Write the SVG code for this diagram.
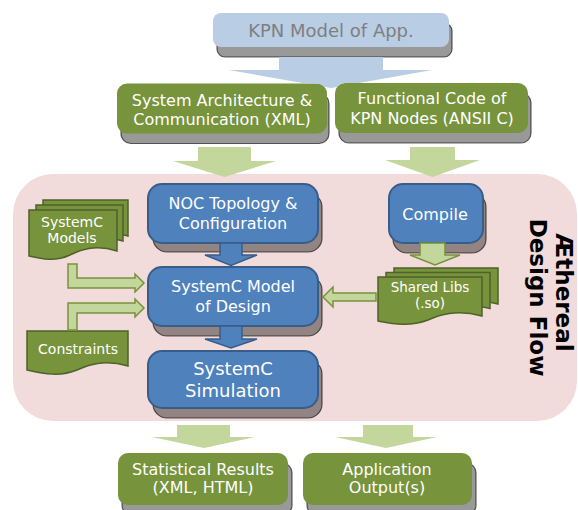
<svg xmlns="http://www.w3.org/2000/svg" width="578" height="510" viewBox="0 0 578 510">
  <style>
    text { font-family: "DejaVu Sans", "Liberation Sans", sans-serif; text-anchor: middle; fill: #ffffff; }
    .t16 { font-size: 16px; }
    .t14 { font-size: 14px; }
    .t13 { font-size: 13.5px; }
    .t18 { font-size: 18px; }
    .title { font-size: 23px; font-weight: bold; fill: #000000; }
    .shadow { fill: #000000; fill-opacity: 0.4; stroke: #000000; stroke-opacity: 0.6; stroke-width: 1.2; }
    .green { fill: #77933c; }
    .blue { fill: #4f81bd; stroke: #385d8a; stroke-width: 2; }
    .kpn { fill: #b9cde5; }
    .doc { fill: #77933c; stroke: #4f6228; stroke-width: 1.5; }
    .flow { fill: #c3d69b; }
    .flow-edged { fill: #c3d69b; stroke: #77933c; stroke-width: 1.5; }
    .blue-arrow { fill: #4f81bd; stroke: #385d8a; stroke-width: 1.5; }
    .kpn-arrow { fill: #b9cde5; }
  </style>
  <defs>
    <!-- hide the tip of the wide arrow behind the two boxes it feeds -->
    <mask id="under-inputs">
      <rect x="0" y="0" width="578" height="510" fill="#fff"/>
      <rect x="117" y="83.5" width="210" height="50" rx="10" fill="#000"/>
      <rect x="335" y="83" width="193" height="50" rx="10" fill="#000"/>
    </mask>
  </defs>

  <!-- design-flow region -->
  <g id="design-flow">
    <rect x="13" y="174" width="564" height="247" rx="40" fill="#f2dcdb"/>
    <text class="title" transform="translate(555.5,292.5) rotate(90)">Æthereal</text>
    <text class="title" transform="translate(529.5,297.5) rotate(90)">Design Flow</text>
  </g>

  <g id="nodes">
    <g id="kpn-model">
      <rect class="shadow" x="217" y="23" width="235" height="34" rx="8"/>
      <rect class="kpn" x="213" y="13" width="236" height="34" rx="8"/>
      <text class="t18" x="331" y="37" style="fill:#7f7f7f">KPN Model of App.</text>
    </g>

    <g id="sys-arch">
      <rect class="shadow" x="121" y="93.5" width="208" height="50" rx="10"/>
      <rect class="green" x="117" y="83.5" width="210" height="50" rx="10"/>
      <text class="t16" x="222" y="105.5">System Architecture &amp;</text>
      <text class="t16" x="222" y="125">Communication (XML)</text>
    </g>

    <g id="func-code">
      <rect class="shadow" x="339" y="93" width="192" height="50" rx="10"/>
      <rect class="green" x="335" y="83" width="193" height="50" rx="10"/>
      <text class="t16" x="432" y="104">Functional Code of</text>
      <text class="t16" x="432" y="123.5">KPN Nodes (ANSII C)</text>
    </g>

    <g id="noc-topology">
      <rect class="shadow" x="153" y="193" width="169" height="59" rx="14"/>
      <rect class="blue" x="148" y="184" width="170" height="59" rx="14"/>
      <text class="t16" x="233" y="209">NOC Topology &amp;</text>
      <text class="t16" x="233" y="228.5">Configuration</text>
    </g>

    <g id="compile">
      <rect class="shadow" x="393" y="193" width="93" height="60" rx="14"/>
      <rect class="blue" x="389" y="184" width="94" height="59" rx="14"/>
      <text class="t16" x="435" y="220">Compile</text>
    </g>

    <g id="systemc-model">
      <rect class="shadow" x="153" y="276" width="169" height="60" rx="14"/>
      <rect class="blue" x="148" y="267" width="170" height="59" rx="14"/>
      <text class="t16" x="233" y="292">SystemC Model</text>
      <text class="t16" x="233" y="311.5">of Design</text>
    </g>

    <g id="systemc-simulation">
      <rect class="shadow" x="153" y="360" width="169" height="58" rx="14"/>
      <rect class="blue" x="148" y="351" width="170" height="57" rx="14"/>
      <text class="t18" x="233" y="375">SystemC</text>
      <text class="t18" x="233" y="397">Simulation</text>
    </g>

    <g id="systemc-models">
      <path class="doc" d="M43,200 H128 V236 C105,229 90,235 80,240 C65,247 55,244 43,241 Z"/>
      <path class="doc" d="M36,205 H123 V241 C100,234 85,240 75,245 C60,252 48,249 36,246 Z"/>
      <path class="doc" d="M29,210 H117 V251 C95,244 80,250 70,255 C55,262 42,259 29,256 Z"/>
      <text class="t14" x="72" y="227">SystemC</text>
      <text class="t14" x="72" y="243">Models</text>
    </g>

    <g id="constraints">
      <path class="doc" d="M27,331 H128 V366 C104,359 88,365 77,370 C60,377 45,374 27,370 Z"/>
      <text class="t14" x="78" y="354">Constraints</text>
    </g>

    <g id="shared-libs">
      <path class="doc" d="M394,268 H498 V304 C472,297 455,303 444,308 C425,315 410,312 394,309 Z"/>
      <path class="doc" d="M386,272.5 H490 V308.5 C464,301.5 447,307.5 436,312.5 C417,319.5 402,316.5 386,313.5 Z"/>
      <path class="doc" d="M378,277 H482 V316 C456,309 439,315 428,320 C409,327 394,324 378,321 Z"/>
      <text class="t13" x="430" y="292">Shared Libs</text>
      <text class="t13" x="430" y="308">(.so)</text>
    </g>

    <g id="statistical-results">
      <rect class="shadow" x="122" y="463" width="170" height="52" rx="10"/>
      <rect class="green" x="118" y="453" width="170" height="52" rx="10"/>
      <text class="t16" x="203" y="475">Statistical Results</text>
      <text class="t16" x="203" y="493">(XML, HTML)</text>
    </g>

    <g id="application-output">
      <rect class="shadow" x="307" y="463" width="169" height="52" rx="10"/>
      <rect class="green" x="303" y="453" width="169" height="52" rx="10"/>
      <text class="t16" x="387" y="475">Application</text>
      <text class="t16" x="387" y="493">Output(s)</text>
    </g>
  </g>

  <g id="connectors">
    <!-- KPN model splits into both inputs -->
    <polygon class="kpn-arrow" mask="url(#under-inputs)" points="279,57 383,57 383,70 432,70 331,88 229,70 279,70"/>
    <!-- inputs into the design flow -->
    <polygon class="flow" points="198,147 251,147 251,161 276,161 224.5,177 173,161 198,161"/>
    <polygon class="flow" points="410,147 455,147 455,160 480,160 432.5,177 385,160 410,160"/>
    <!-- NOC topology -> SystemC model -->
    <polygon class="blue-arrow" points="220,243 242,243 242,255 257,255 231,265.5 205,255 220,255"/>
    <!-- SystemC model -> simulation -->
    <polygon class="blue-arrow" points="220,326 242,326 242,339 257,339 231,348 205,339 220,339"/>
    <!-- compile -> shared libs -->
    <polygon class="flow-edged" points="420,243 445,243 445,255 460,255 435,265 410,255 420,255"/>
    <!-- shared libs -> SystemC model -->
    <polygon class="flow-edged" points="376,293 333,293 333,287 323,297 333,307 333,301 376,301"/>
    <!-- SystemC models -> SystemC model -->
    <polygon class="flow-edged" points="68,264 77,264 77,278 135,278 135,274 144,283 135,292 135,288 68,288"/>
    <!-- constraints -> SystemC model -->
    <polygon class="flow-edged" points="68,330 77,330 77,313 135,313 135,317 144,308 135,299 135,303 68,303"/>
    <!-- simulation outputs -->
    <polygon class="flow" points="177,425 230,425 230,437 255,437 204,448 152,437 177,437"/>
    <polygon class="flow" points="363,425 413,425 413,437 437,437 386,448 335,437 363,437"/>
  </g>
</svg>
